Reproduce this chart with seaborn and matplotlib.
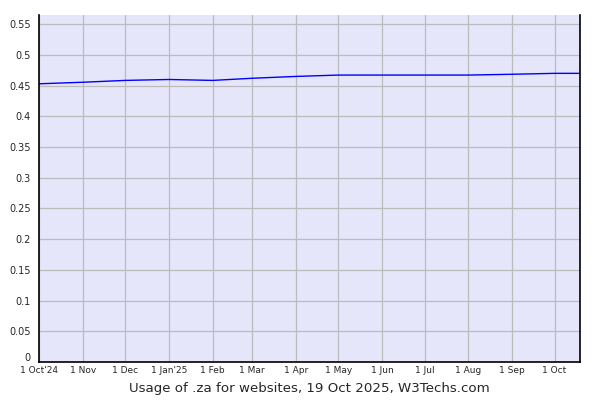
import matplotlib
matplotlib.use("Agg")
import matplotlib.pyplot as plt
import matplotlib.transforms as mtransforms
import seaborn as sns
import pandas as pd
import numpy as np

dates = ["2024-10-01", "2024-11-01", "2024-12-01", "2025-01-01", "2025-02-01",
         "2025-03-01", "2025-04-01", "2025-05-01", "2025-06-01", "2025-07-01",
         "2025-08-01", "2025-09-01", "2025-10-01", "2025-10-19"]
usage = [0.453, 0.4555, 0.4585, 0.4600, 0.4585, 0.4620, 0.4650, 0.4672,
         0.4672, 0.4672, 0.4672, 0.4685, 0.4700, 0.4700]
tick_dates = ["2024-10-01", "2024-11-01", "2024-12-01", "2025-01-01", "2025-02-01",
              "2025-03-01", "2025-04-01", "2025-05-01", "2025-06-01", "2025-07-01",
              "2025-08-01", "2025-09-01", "2025-10-01"]
tick_labels = ["1 Oct'24", "1 Nov", "1 Dec", "1 Jan'25", "1 Feb", "1 Mar", "1 Apr",
               "1 May", "1 Jun", "1 Jul", "1 Aug", "1 Sep", "1 Oct"]
y_ticks = [0, 0.05, 0.1, 0.15, 0.2, 0.25, 0.3, 0.35, 0.4, 0.45, 0.5, 0.55]
y_labels = ["0", "0.05", "0.1", "0.15", "0.2", "0.25", "0.3", "0.35", "0.4", "0.45", "0.5", "0.55"]
title = "Usage of .za for websites, 19 Oct 2025, W3Techs.com"

df = pd.DataFrame({"date": pd.to_datetime(dates), "usage": usage})

sns.set_style("white")
fig = plt.figure(figsize=(6, 4), dpi=100)
ax = fig.add_axes([39/600, 38/400, 541/600, 347/400])
ax.set_facecolor("#E6E6FA")

sns.lineplot(data=df, x="date", y="usage", ax=ax, color="#0000FF", linewidth=1.0)

ax.set_xlim(pd.Timestamp("2024-10-01"), pd.Timestamp("2025-10-19"))
ax.set_ylim(0, 0.565)
ax.set_xticks(pd.to_datetime(tick_dates))
ax.set_xticklabels(tick_labels, fontsize=6.5, family=["Liberation Sans Narrow", "DejaVu Sans"])
ax.set_yticks(y_ticks)
ax.set_yticklabels(y_labels, fontsize=7, family="DejaVu Sans")
ax.grid(True, color="#BBBBBB", linewidth=0.9)
ax.set_axisbelow(True)
ax.tick_params(axis="y", direction="out", length=4, width=1, color="black", pad=2)
ax.tick_params(axis="x", length=0, pad=3)
for s in ["left", "bottom", "right"]:
    ax.spines[s].set_visible(True)
    ax.spines[s].set_color("black")
    ax.spines[s].set_linewidth(1.2)
ax.spines["top"].set_visible(False)
ax.set_ylabel("")
ax.set_xlabel(title, fontsize=9.6, family="DejaVu Sans", labelpad=5)

# raise the "0" label slightly, as in the reference
zero_lbl = ax.get_yticklabels()[0]
zero_lbl.set_transform(zero_lbl.get_transform() + mtransforms.ScaledTranslation(0, 5/100, fig.dpi_scale_trans))

fig.savefig("out.png", dpi=100)
